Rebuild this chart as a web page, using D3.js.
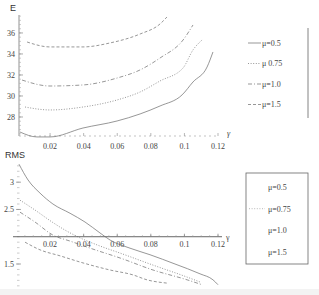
<!DOCTYPE html>
<html>
<head>
<meta charset="utf-8">
<script src="https://cdn.jsdelivr.net/npm/d3@7"></script>
<style>
  html, body { margin: 0; padding: 0; background: #fff; }
  svg { display: block; }
  .tk { font-family: "Liberation Serif", "DejaVu Serif", serif; font-size: 8px; fill: #444; }
  .lg { font-family: "Liberation Serif", "DejaVu Serif", serif; font-size: 8px; fill: #444; }
  .ttl { font-family: "Liberation Sans", "DejaVu Sans", sans-serif; font-size: 9px; fill: #333; }
</style>
</head>
<body>
<svg id="chart" width="319" height="295"></svg>
<script>
// 범례 라벨
var MU = ["μ=0.5", "μ 0.75", "μ=1.0", "μ=1.5"];
var MU2 = ["μ=0.5", "μ=0.75", "μ=1.0", "μ=1.5"];

// 위쪽: E(γ)
var E_GAMMA = [
  [0.0021, 0.0122, 0.0200, 0.0396, 0.0599, 0.0736, 0.0855, 0.0986, 0.1051, 0.1135, 0.1170],
  [0.0051, 0.0200, 0.0396, 0.0599, 0.0736, 0.0855, 0.0992, 0.1051, 0.1105],
  [0.0033, 0.0200, 0.0396, 0.0599, 0.0736, 0.0855, 0.0992, 0.1051],
  [0.0063, 0.0200, 0.0396, 0.0557, 0.0736, 0.0855, 0.0896]
];
var E_VALUES = [
  [26.57, 26.10, 26.10, 26.95, 27.62, 28.29, 29.05, 30.10, 31.33, 32.76, 34.19],
  [28.95, 28.67, 28.95, 29.62, 30.38, 31.43, 32.67, 34.38, 35.33],
  [31.52, 30.95, 31.05, 31.71, 32.48, 33.62, 35.33, 36.76],
  [35.14, 34.67, 34.67, 35.05, 35.90, 36.86, 37.52]
];

// 아래쪽: RMS(γ)
var RMS_GAMMA = [
  [0.0015, 0.0069, 0.0140, 0.0217, 0.0319, 0.0408, 0.0497, 0.0557, 0.0676, 0.0795, 0.0944, 0.1093, 0.1170, 0.1200],
  [0.0021, 0.0110, 0.0212, 0.0290, 0.0378, 0.0497, 0.0617, 0.0813, 0.1016, 0.1093],
  [0.0021, 0.0110, 0.0217, 0.0319, 0.0468, 0.0617, 0.0813, 0.1016, 0.1105],
  [0.0051, 0.0140, 0.0259, 0.0396, 0.0557, 0.0694, 0.0777, 0.0896]
];
var RMS_VALUES = [
  [3.33, 3.04, 2.80, 2.60, 2.43, 2.27, 2.07, 1.94, 1.79, 1.67, 1.50, 1.32, 1.21, 1.12],
  [2.67, 2.49, 2.27, 2.12, 1.98, 1.83, 1.70, 1.48, 1.26, 1.17],
  [2.45, 2.27, 2.03, 1.92, 1.76, 1.61, 1.39, 1.21, 1.12],
  [1.90, 1.76, 1.65, 1.52, 1.39, 1.30, 1.21, 1.15]
];

var X_TICKS = [0.02, 0.04, 0.06, 0.08, 0.1, 0.12];
var E_TICKS = [28, 30, 32, 34, 36];
var RMS_TICKS = [1.5, 2.5, 3];

var DASH = [null, "1,1.6", "4,2,1,2", "3,2"];
var INK = "#6a6a6a";

var svg = d3.select("#chart");
svg.append("rect").attr("x", 0).attr("y", 289).attr("width", 319).attr("height", 6).attr("fill", "#f3f3f3");

var x = d3.scaleLinear().domain([0.0015, 0.12]).range([19, 218]);
var yE = d3.scaleLinear().domain([26.19, 37.71]).range([136, 15]);
var yR = d3.scaleLinear().domain([1.06, 3.37]).range([288, 162]);

function curve(ys) {
  return d3.line().x(function (p) { return x(p[0]); }).y(function (p) { return ys(p[1]); })
    .curve(d3.curveMonotoneX);
}
function pts(gs, vs) { return gs.map(function (g, i) { return [g, vs[i]]; }); }

// ---- 위쪽 패널
var gTop = svg.append("g");
// y 축
gTop.append("line").attr("x1", 19).attr("x2", 19).attr("y1", 15).attr("y2", 136)
  .attr("stroke", "#777").attr("stroke-width", 0.8);
d3.range(26.4, 37.7, 0.4).forEach(function (v) {
  gTop.append("line").attr("x1", 19).attr("x2", 21).attr("y1", yE(v)).attr("y2", yE(v))
    .attr("stroke", "#aaa").attr("stroke-width", 0.6);
});
E_TICKS.forEach(function (v) {
  gTop.append("line").attr("x1", 19).attr("x2", 23).attr("y1", yE(v)).attr("y2", yE(v))
    .attr("stroke", "#888").attr("stroke-width", 0.7);
  gTop.append("text").attr("class", "tk").attr("x", 15).attr("y", yE(v)).attr("dy", "0.35em")
    .attr("text-anchor", "end").text(v);
});
// x 축 (점선처럼 보임)
gTop.append("line").attr("x1", 19).attr("x2", 218).attr("y1", 136).attr("y2", 136)
  .attr("stroke", "#aaa").attr("stroke-width", 0.7).attr("stroke-dasharray", "2,3");
X_TICKS.forEach(function (v) {
  gTop.append("line").attr("x1", x(v)).attr("x2", x(v)).attr("y1", 133).attr("y2", 136)
    .attr("stroke", "#999").attr("stroke-width", 0.7);
  gTop.append("text").attr("class", "tk").attr("x", x(v)).attr("y", 146).attr("dy", "0.35em")
    .attr("text-anchor", "middle").attr("font-size", "7px").text(v);
});
gTop.append("text").attr("class", "ttl").attr("x", 10).attr("y", 11).text("E");
gTop.append("text").attr("class", "tk").attr("x", 227).attr("y", 136).attr("font-size", "10px")
  .attr("font-style", "italic").text("γ");

E_GAMMA.forEach(function (gs, i) {
  gTop.append("path").attr("d", curve(yE)(pts(gs, E_VALUES[i])))
    .attr("fill", "none").attr("stroke", INK).attr("stroke-width", 0.7)
    .attr("stroke-dasharray", DASH[i]);
});

// 위쪽 범례
var lg1 = svg.append("g");
lg1.append("line").attr("x1", 308).attr("x2", 308).attr("y1", 28).attr("y2", 118)
  .attr("stroke", "#666").attr("stroke-width", 0.8);
MU.forEach(function (m, i) {
  var yy = 43 + i * 20.5;
  lg1.append("line").attr("x1", 248).attr("x2", 261).attr("y1", yy).attr("y2", yy)
    .attr("stroke", INK).attr("stroke-width", 0.7).attr("stroke-dasharray", DASH[i]);
  lg1.append("text").attr("class", "lg").attr("x", 262).attr("y", yy).attr("dy", "0.35em").text(m);
});

// ---- 아래쪽 패널
var gBot = svg.append("g");
d3.range(1.1, 3.36, 0.1).forEach(function (v) {
  gBot.append("line").attr("x1", 17).attr("x2", 19.5).attr("y1", yR(v)).attr("y2", yR(v))
    .attr("stroke", "#aaa").attr("stroke-width", 0.6);
});
RMS_TICKS.forEach(function (v) {
  gBot.append("line").attr("x1", 16).attr("x2", 21).attr("y1", yR(v)).attr("y2", yR(v))
    .attr("stroke", "#888").attr("stroke-width", 0.7);
  gBot.append("text").attr("class", "tk").attr("x", 14).attr("y", yR(v)).attr("dy", "0.35em")
    .attr("text-anchor", "end").text(v);
});
var xAxisY = yR(2);
gBot.append("line").attr("x1", 13).attr("x2", 222).attr("y1", xAxisY).attr("y2", xAxisY)
  .attr("stroke", "#555").attr("stroke-width", 0.9);
d3.range(0.005, 0.1231, 0.005).forEach(function (v) {
  gBot.append("line").attr("x1", x(v)).attr("x2", x(v)).attr("y1", xAxisY - 1.5).attr("y2", xAxisY)
    .attr("stroke", "#999").attr("stroke-width", 0.6);
});
X_TICKS.forEach(function (v) {
  gBot.append("line").attr("x1", x(v)).attr("x2", x(v)).attr("y1", xAxisY - 3).attr("y2", xAxisY)
    .attr("stroke", "#777").attr("stroke-width", 0.7);
  gBot.append("text").attr("class", "tk").attr("x", x(v)).attr("y", xAxisY + 7).attr("dy", "0.35em")
    .attr("text-anchor", "middle").attr("font-size", "7px").text(v);
});
gBot.append("text").attr("class", "ttl").attr("x", 5).attr("y", 158).text("RMS");
gBot.append("text").attr("class", "tk").attr("x", 226).attr("y", 240).attr("font-size", "11px").text("γ");

RMS_GAMMA.forEach(function (gs, i) {
  gBot.append("path").attr("d", curve(yR)(pts(gs, RMS_VALUES[i])))
    .attr("fill", "none").attr("stroke", INK).attr("stroke-width", 0.7)
    .attr("stroke-dasharray", DASH[i]);
});

// 아래쪽 범례 (0.75 만 선 샘플이 보임)
var lg2 = svg.append("g");
lg2.append("rect").attr("x", 246).attr("y", 173).attr("width", 62).attr("height", 91)
  .attr("fill", "none").attr("stroke", "#666").attr("stroke-width", 0.8);
MU2.forEach(function (m, i) {
  var yy = 187 + i * 21.7;
  if (i === 1) {
    lg2.append("line").attr("x1", 249).attr("x2", 265).attr("y1", yy).attr("y2", yy)
      .attr("stroke", "#999").attr("stroke-width", 0.7).attr("stroke-dasharray", DASH[1]);
  }
  lg2.append("text").attr("class", "lg").attr("x", 268).attr("y", yy).attr("dy", "0.35em").text(m);
});
</script>
</body>
</html>
